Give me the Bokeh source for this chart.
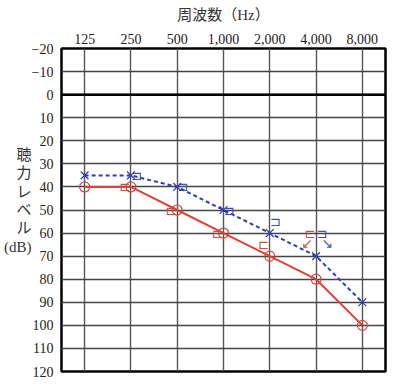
from bokeh.plotting import figure
from bokeh.models import Range1d, FixedTicker, NumeralTickFormatter, Span
from bokeh.embed import file_html
from bokeh.resources import INLINE
from bokeh.core.properties import value

# ---- data ----
freqs = [125, 250, 500, 1000, 2000, 4000, 8000]
freq_labels = ["125", "250", "500", "1,000", "2,000", "4,000", "8,000"]
db_ticks = [-20, -10, 0, 10, 20, 30, 40, 50, 60, 70, 80, 90, 100, 110, 120]
emphasis_levels = [0]

right_air = [40, 40, 50, 60, 70, 80, 100]
left_air = [35, 35, 40, 50, 60, 70, 90]

bone_freqs = [250, 500, 1000, 2000, 4000]
right_bone = [40, 50, 60, 65, 60]
left_bone = [35, 40, 50, 55, 60]

noresp_freqs = [4000]
right_noresp = [60]
left_noresp = [60]

title_text = "周波数（Hz）"
ylabel_lines = ["聴", "力", "レ", "ベ", "ル", "(dB)", "\u00a0"]

RED = "#d9443b"
BLUE = "#2b3fb5"
SERIF = "Liberation Serif"
MIXED = "'Liberation Serif', 'Noto Sans CJK JP'"

p = figure(width=400, height=384, x_axis_type="log", x_axis_location="above",
           x_range=Range1d(freqs[0] / 2 ** 0.5, freqs[-1] * 2 ** 0.5),
           y_range=Range1d(db_ticks[-1], db_ticks[0]),
           output_backend="svg", toolbar_location=None,
           min_border_left=61, min_border_right=15, min_border_top=48, min_border_bottom=13)

p.outline_line_color = "black"
p.outline_line_width = 2.5
p.background_fill_color = "white"
p.border_fill_color = "white"

xa = p.xaxis[0]
xa.ticker = FixedTicker(ticks=freqs)
xa.formatter = NumeralTickFormatter(format="0,0")
xa.major_label_overrides = dict(zip(freqs, freq_labels))
xa.axis_label = title_text
xa.axis_label_standoff = 8

ya = p.yaxis[0]
ya.ticker = FixedTicker(ticks=db_ticks)
ya.axis_label = "\n".join(ylabel_lines)
ya.axis_label_orientation = "horizontal"
ya.axis_label_text_align = "center"
ya.axis_label_text_line_height = 1.15
ya.axis_label_standoff = -3

for ax in (xa, ya):
    ax.axis_line_color = None
    ax.major_tick_line_color = None
    ax.minor_tick_line_color = None
    ax.major_tick_out = 0
    ax.major_tick_in = 0
    ax.minor_tick_out = 0
    ax.major_label_text_font = SERIF
    ax.major_label_text_font_size = "14px"
    ax.major_label_text_color = "#222222"
    ax.axis_label_text_font = MIXED
    ax.axis_label_text_font_size = "15px"
    ax.axis_label_text_font_style = "normal"
    ax.axis_label_text_color = "#333333"
xa.major_label_standoff = 5
ya.major_label_standoff = 8

p.xgrid.grid_line_color = "#555555"
p.xgrid.grid_line_width = 1.4
p.ygrid.grid_line_color = "#444444"
p.ygrid.grid_line_width = 1.4
p.xgrid.minor_grid_line_color = None

for lv in emphasis_levels:
    p.add_layout(Span(location=lv, dimension="width", line_color="black", line_width=2.5))

# air conduction lines
p.line(freqs, right_air, line_color=RED, line_width=2)
p.line(freqs, left_air, line_color=BLUE, line_width=2, line_dash="4 3")

# bone conduction brackets
p.text(bone_freqs, right_bone, text=["⊏"] * len(bone_freqs), x_offset=-6,
       text_align="center", text_baseline="middle", text_color="#c9504a",
       text_font=value("DejaVu Sans"), text_font_size="13px")
p.text(bone_freqs, left_bone, text=["⊐"] * len(bone_freqs), x_offset=6,
       text_align="center", text_baseline="middle", text_color="#3f4fb5",
       text_font=value("DejaVu Sans"), text_font_size="13px")

# no-response arrows
p.text(noresp_freqs, right_noresp, text=["↙"] * len(noresp_freqs), x_offset=-9, y_offset=10,
       text_align="center", text_baseline="middle", text_color="#c9504a",
       text_font=value("DejaVu Sans"), text_font_size="14px")
p.text(noresp_freqs, left_noresp, text=["↘"] * len(noresp_freqs), x_offset=11, y_offset=10,
       text_align="center", text_baseline="middle", text_color="#3f4fb5",
       text_font=value("DejaVu Sans"), text_font_size="14px")

# air conduction markers
p.scatter(freqs, right_air, marker="circle", size=10, fill_color=None,
          line_color=RED, line_width=1.2)
p.scatter(freqs, left_air, marker="x", size=11, line_color=BLUE, line_width=1.2)

open("out.html", "w").write(file_html(p, INLINE))
